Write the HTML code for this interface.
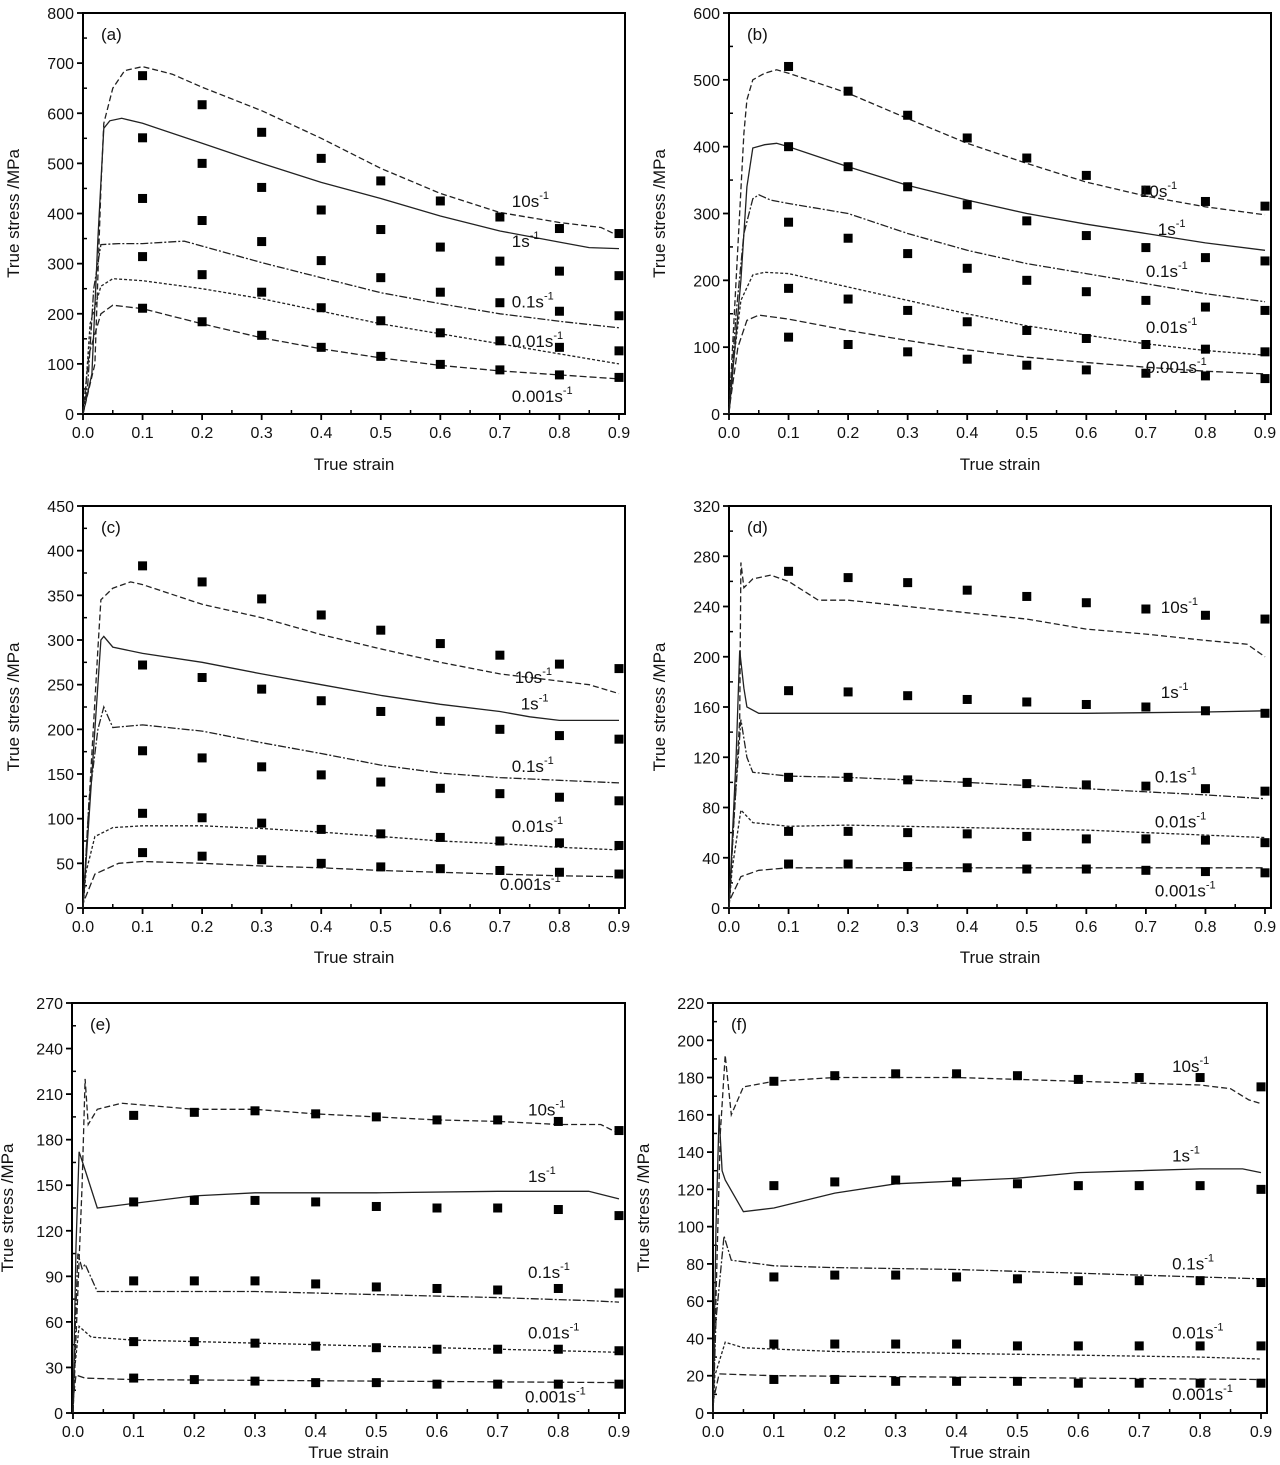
<!DOCTYPE html>
<html><head><meta charset="utf-8"><title>True stress vs true strain</title>
<style>
html,body{margin:0;padding:0;background:#fff;}
svg{display:block;font-family:"Liberation Sans",Arial,sans-serif;}
</style></head>
<body>
<svg id="fig" width="1280" height="1465" viewBox="0 0 1280 1465" xmlns="http://www.w3.org/2000/svg"></svg>
<script>
// ---------- shared data ----------
const rateNames = ["10s", "1s", "0.1s", "0.01s", "0.001s"];
const pointStrains = [0.1,0.2,0.3,0.4,0.5,0.6,0.7,0.8,0.9];
const xTicks = [0,0.1,0.2,0.3,0.4,0.5,0.6,0.7,0.8,0.9];

// ---------- panel (a) ----------
const ptsA10 = [675,617,562,510,465,425,393,370,360];
const ptsA1 = [551,500,452,407,368,333,305,285,276];
const ptsA01 = [430,386,344,306,272,243,222,205,196];
const ptsA001 = [314,278,243,212,186,162,146,133,126];
const ptsA0001 = [211,184,157,133,115,99,88,78,73];
const curveA10 = [[0.02,100],[0.03,450],[0.035,580],[0.05,650],[0.07,685],[0.1,693],[0.15,678],[0.2,652],[0.3,605],[0.4,550],[0.5,490],[0.6,440],[0.7,402],[0.8,382],[0.87,372],[0.9,355]];
const curveA1 = [[0.015,80],[0.025,350],[0.035,570],[0.045,585],[0.065,590],[0.1,580],[0.2,540],[0.3,500],[0.4,462],[0.5,430],[0.6,395],[0.7,365],[0.8,343],[0.85,332],[0.9,330]];
const curveA01 = [[0.008,60],[0.018,250],[0.03,338],[0.06,340],[0.1,340],[0.17,345],[0.2,335],[0.3,302],[0.4,272],[0.5,242],[0.6,220],[0.7,200],[0.8,185],[0.9,172]];
const curveA001 = [[0.004,40],[0.012,180],[0.03,255],[0.05,270],[0.1,266],[0.2,250],[0.3,230],[0.4,205],[0.5,180],[0.6,160],[0.7,140],[0.8,120],[0.9,100]];
const curveA0001 = [[0,5],[0.01,120],[0.03,200],[0.05,217],[0.1,210],[0.2,180],[0.3,152],[0.4,130],[0.5,112],[0.6,97],[0.7,86],[0.8,78],[0.9,70]];
const labelsA = [[0.72,413],[0.72,333],[0.72,212],[0.72,134],[0.72,24]];

// ---------- panel (b) ----------
const ptsB10 = [520,483,447,413,383,357,335,318,311];
const ptsB1 = [400,370,340,313,289,267,249,234,229];
const ptsB01 = [287,263,240,218,200,183,170,160,155];
const ptsB001 = [188,172,155,138,125,113,104,97,93];
const ptsB0001 = [115,104,93,82,73,66,61,57,53];
const curveB10 = [[0.025,420],[0.03,470],[0.04,500],[0.06,510],[0.08,515],[0.1,510],[0.2,480],[0.3,442],[0.4,405],[0.5,375],[0.6,347],[0.7,326],[0.8,310],[0.9,298]];
const curveB1 = [[0.02,200],[0.03,340],[0.04,398],[0.06,403],[0.08,405],[0.1,400],[0.2,370],[0.3,342],[0.4,320],[0.5,300],[0.6,284],[0.7,270],[0.8,256],[0.9,245]];
const curveB01 = [[0.012,150],[0.025,270],[0.04,322],[0.05,328],[0.07,320],[0.1,315],[0.2,300],[0.3,270],[0.4,245],[0.5,225],[0.6,210],[0.7,195],[0.8,180],[0.9,168]];
const curveB001 = [[0.005,60],[0.02,170],[0.04,208],[0.06,212],[0.1,210],[0.2,190],[0.3,170],[0.4,150],[0.5,132],[0.6,118],[0.7,105],[0.8,95],[0.9,88]];
const curveB0001 = [[0,5],[0.015,100],[0.03,140],[0.05,148],[0.1,142],[0.2,125],[0.3,110],[0.4,96],[0.5,85],[0.6,77],[0.7,70],[0.8,64],[0.9,60]];
const labelsB = [[0.69,325],[0.72,268],[0.70,205],[0.70,121],[0.70,61]];

// ---------- panel (c) ----------
const ptsC10 = [383,365,346,328,311,296,283,273,268];
const ptsC1 = [272,258,245,232,220,209,200,193,189];
const ptsC01 = [176,168,158,149,141,134,128,124,120];
const ptsC001 = [106,101,95,88,83,79,75,73,70];
const ptsC0001 = [62,58,54,50,46,44,42,40,38];
const curveC10 = [[0.025,290],[0.03,345],[0.05,358],[0.08,365],[0.1,362],[0.2,340],[0.3,325],[0.4,306],[0.5,290],[0.6,275],[0.7,262],[0.8,254],[0.85,250],[0.9,240]];
const curveC1 = [[0.02,200],[0.03,300],[0.035,304],[0.05,292],[0.1,285],[0.2,275],[0.3,262],[0.4,250],[0.5,238],[0.6,228],[0.7,220],[0.75,214],[0.8,210],[0.9,210]];
const curveC01 = [[0.01,120],[0.025,200],[0.035,225],[0.05,202],[0.1,205],[0.2,198],[0.3,185],[0.4,173],[0.5,160],[0.6,151],[0.7,146],[0.8,143],[0.9,140]];
const curveC001 = [[0.005,40],[0.02,80],[0.05,90],[0.1,92],[0.2,92],[0.3,89],[0.4,85],[0.5,80],[0.6,75],[0.7,72],[0.8,68],[0.9,65]];
const curveC0001 = [[0,5],[0.02,38],[0.06,50],[0.1,52],[0.2,50],[0.3,47],[0.4,45],[0.5,42],[0.6,40],[0.7,38],[0.8,36],[0.9,35]];
const labelsC = [[0.725,252],[0.735,222],[0.72,152],[0.72,85],[0.70,20]];

// ---------- panel (d) ----------
const ptsD10 = [268,263,259,253,248,243,238,233,230];
const ptsD1 = [173,172,169,166,164,162,160,157,155];
const ptsD01 = [104,104,102,100,99,98,97,95,93];
const ptsD001 = [61,61,60,59,57,55,55,54,52];
const ptsD0001 = [35,35,33,32,31,31,30,29,28];
const curveD10 = [[0.018,150],[0.02,275],[0.025,255],[0.04,262],[0.07,265],[0.1,260],[0.15,245],[0.2,245],[0.3,240],[0.4,235],[0.5,230],[0.6,222],[0.7,218],[0.8,213],[0.87,210],[0.9,200]];
const curveD1 = [[0.012,120],[0.018,205],[0.025,175],[0.03,160],[0.05,155],[0.2,155],[0.4,155],[0.6,155],[0.8,156],[0.9,157]];
const curveD01 = [[0.008,70],[0.02,150],[0.03,120],[0.04,108],[0.1,105],[0.2,104],[0.4,100],[0.6,95],[0.8,90],[0.9,87]];
const curveD001 = [[0.005,30],[0.02,78],[0.04,68],[0.1,65],[0.2,66],[0.4,64],[0.6,62],[0.8,58],[0.9,56]];
const curveD0001 = [[0,5],[0.02,25],[0.05,30],[0.1,32],[0.5,32],[0.9,32]];
const labelsD = [[0.725,235],[0.725,167],[0.715,100],[0.715,64],[0.715,9]];

// ---------- panel (e) ----------
const ptsE10 = [196,198,199,197,195,193,193,192,186];
const ptsE1 = [139,140,140,139,136,135,135,134,130];
const ptsE01 = [87,87,87,85,83,82,81,82,79];
const ptsE001 = [47,47,46,44,43,42,42,42,41];
const ptsE0001 = [23,22,21,20,20,19,19,19,19];
const curveE10 = [[0.015,150],[0.02,220],[0.025,190],[0.04,200],[0.08,204],[0.2,200],[0.3,200],[0.4,197],[0.5,195],[0.6,193],[0.7,192],[0.8,190],[0.87,190],[0.9,184]];
const curveE1 = [[0.005,110],[0.01,172],[0.02,160],[0.04,135],[0.1,138],[0.2,143],[0.3,145],[0.5,145],[0.7,146],[0.85,146],[0.9,141]];
const curveE01 = [[0.004,60],[0.008,105],[0.015,95],[0.02,98],[0.04,80],[0.1,80],[0.3,80],[0.5,78],[0.7,76],[0.85,74],[0.9,73]];
const curveE001 = [[0.003,30],[0.01,57],[0.03,50],[0.1,48],[0.3,46],[0.5,44],[0.7,42],[0.9,40]];
const curveE0001 = [[0,8],[0.005,25],[0.02,23],[0.1,22],[0.5,21],[0.9,20]];
const labelsE = [[0.75,196],[0.75,152],[0.75,89],[0.75,49],[0.745,7]];

// ---------- panel (f) ----------
const ptsF10 = [178,181,182,182,181,179,180,180,175];
const ptsF1 = [122,124,125,124,123,122,122,122,120];
const ptsF01 = [73,74,74,73,72,71,71,71,70];
const ptsF001 = [37,37,37,37,36,36,36,36,36];
const ptsF0001 = [18,18,17,17,17,16,16,16,16];
const curveF10 = [[0.012,150],[0.02,192],[0.03,160],[0.05,175],[0.1,178],[0.2,180],[0.4,180],[0.6,178],[0.7,177],[0.8,176],[0.85,174],[0.88,168],[0.9,166]];
const curveF1 = [[0.005,100],[0.01,160],[0.015,130],[0.02,125],[0.05,108],[0.1,110],[0.2,118],[0.3,123],[0.5,126],[0.6,129],[0.7,130],[0.8,131],[0.87,131],[0.9,129]];
const curveF01 = [[0.005,50],[0.018,95],[0.03,82],[0.1,79],[0.2,78],[0.4,77],[0.6,75],[0.8,73],[0.9,72]];
const curveF001 = [[0.003,20],[0.02,38],[0.05,35],[0.2,33],[0.4,32],[0.6,31],[0.8,30],[0.9,29]];
const curveF0001 = [[0,6],[0.01,21],[0.1,20],[0.5,19],[0.9,18]];
const labelsF = [[0.754,183],[0.754,135],[0.754,77],[0.754,40],[0.754,7]];

const yTicksA = [0,100,200,300,400,500,600,700,800];
const yTicksB = [0,100,200,300,400,500,600];
const yTicksC = [0,50,100,150,200,250,300,350,400,450];
const yTicksD = [0,40,80,120,160,200,240,280,320];
const yTicksE = [0,30,60,90,120,150,180,210,240,270];
const yTicksF = [0,20,40,60,80,100,120,140,160,180,200,220];

// ---------- layout (pixels, not data) ----------
const panels = [
  {id:"a", L:83, R:625, T:13, B:414, x9:619, yMax:800, yTicks:yTicksA, pts:[ptsA10,ptsA1,ptsA01,ptsA001,ptsA0001], curves:[curveA10,curveA1,curveA01,curveA001,curveA0001], labels:labelsA, titleY:470},
  {id:"b", L:729, R:1271, T:13, B:414, x9:1265, yMax:600, yTicks:yTicksB, pts:[ptsB10,ptsB1,ptsB01,ptsB001,ptsB0001], curves:[curveB10,curveB1,curveB01,curveB001,curveB0001], labels:labelsB, titleY:470},
  {id:"c", L:83, R:625, T:506, B:908, x9:619, yMax:450, yTicks:yTicksC, pts:[ptsC10,ptsC1,ptsC01,ptsC001,ptsC0001], curves:[curveC10,curveC1,curveC01,curveC001,curveC0001], labels:labelsC, titleY:963},
  {id:"d", L:729, R:1271, T:506, B:908, x9:1265, yMax:320, yTicks:yTicksD, pts:[ptsD10,ptsD1,ptsD01,ptsD001,ptsD0001], curves:[curveD10,curveD1,curveD01,curveD001,curveD0001], labels:labelsD, titleY:963},
  {id:"e", L:72, R:625, T:1003, B:1413, x9:619, x0:73, yMax:270, yTicks:yTicksE, pts:[ptsE10,ptsE1,ptsE01,ptsE001,ptsE0001], curves:[curveE10,curveE1,curveE01,curveE001,curveE0001], labels:labelsE, titleY:1458},
  {id:"f", L:713, R:1267, T:1003, B:1413, x9:1261, yMax:220, yTicks:yTicksF, pts:[ptsF10,ptsF1,ptsF01,ptsF001,ptsF0001], curves:[curveF10,curveF1,curveF01,curveF001,curveF0001], labels:labelsF, titleY:1458}
];
const dashes = ["6,3", "none", "8,2,2,2", "3,2", "7,3"];
const NS = "http://www.w3.org/2000/svg";
const svg = document.getElementById("fig");
function mk(tag, attrs, parent){
  const e = document.createElementNS(NS, tag);
  for (const k in attrs) e.setAttribute(k, attrs[k]);
  (parent||svg).appendChild(e);
  return e;
}

panels.forEach(p => {
  const x0 = p.x0 || p.L;
  const X = v => x0 + v / 0.9 * (p.x9 - x0);
  const Y = v => p.B - v / p.yMax * (p.B - p.T);
  const g = mk("g", {});
  
  

  const fr = mk("rect", {x:p.L, y:p.T, width:p.R-p.L, height:p.B-p.T, fill:"none", stroke:"#000", "stroke-width":2}, g);
  
  

  const step = p.yTicks[1] - p.yTicks[0];
  p.yTicks.forEach((t, i) => {
    const y = Y(t);
    mk("line", {x1:p.L-6, x2:p.L, y1:y, y2:y, stroke:"#000", "stroke-width":1.8}, g);
    const tx = mk("text", {x:p.L-9, y:y+6, "text-anchor":"end", "font-size":16, fill:"#111"}, g);
    tx.textContent = t;
    
    
    if (i < p.yTicks.length - 1) {
      const ym = Y(t + step/2);
      mk("line", {x1:p.L, x2:p.L+4, y1:ym, y2:ym, stroke:"#000", "stroke-width":1.5}, g);
    }
  });
  xTicks.forEach((t, i) => {
    const x = X(t);
    mk("line", {x1:x, x2:x, y1:p.B, y2:p.B+6, stroke:"#000", "stroke-width":1.8}, g);
    const tx = mk("text", {x:x, y:p.B+24, "text-anchor":"middle", "font-size":16, fill:"#111"}, g);
    tx.textContent = t.toFixed(1);
    
    
    if (i < xTicks.length - 1) {
      const xm = X(t + 0.05);
      mk("line", {x1:xm, x2:xm, y1:p.B-4, y2:p.B, stroke:"#000", "stroke-width":1.5}, g);
    }
  });
  const xt = mk("text", {x:(p.L+p.R)/2, y:p.titleY, "text-anchor":"middle", "font-size":17, fill:"#111"}, g);
  xt.textContent = "True strain";
  
  
  const ycx = Math.max(13, p.L - 64), ycy = (p.T + p.B) / 2;
  const yt = mk("text", {x:ycx, y:ycy, "text-anchor":"middle", "font-size":17, fill:"#111", transform:`rotate(-90 ${ycx} ${ycy})`}, g);
  yt.textContent = "True stress /MPa";
  
  
  const pl = mk("text", {x:p.L+18, y:p.T+27, "font-size":17, fill:"#111"}, g);
  pl.textContent = "(" + p.id + ")";
  
  

  p.curves.forEach((c, k) => {
    const pts = [[0, 0]].concat(c);
    const d = pts.map((q, i) => (i ? "L" : "M") + X(q[0]).toFixed(1) + "," + Y(q[1]).toFixed(1)).join(" ");
    const path = mk("path", {d:d, fill:"none", stroke:"#222", "stroke-width":1.3, "stroke-dasharray":dashes[k]}, g);
    
    
  });
  p.pts.forEach((arr, k) => {
    arr.forEach((v, i) => {
      const r = mk("rect", {x:X(pointStrains[i])-4.5, y:Y(v)-4.5, width:9, height:9, fill:"#000"}, g);
      
      
    });
  });
  p.labels.forEach((lb, k) => {
    const t = mk("text", {x:X(lb[0]), y:Y(lb[1]), "font-size":17, fill:"#111"}, g);
    
    
    const a = mk("tspan", {}, t); a.textContent = rateNames[k];
    const s = mk("tspan", {dy:-8, "font-size":11}, t); s.textContent = "-1";
  });
});
</script>
</body></html>
